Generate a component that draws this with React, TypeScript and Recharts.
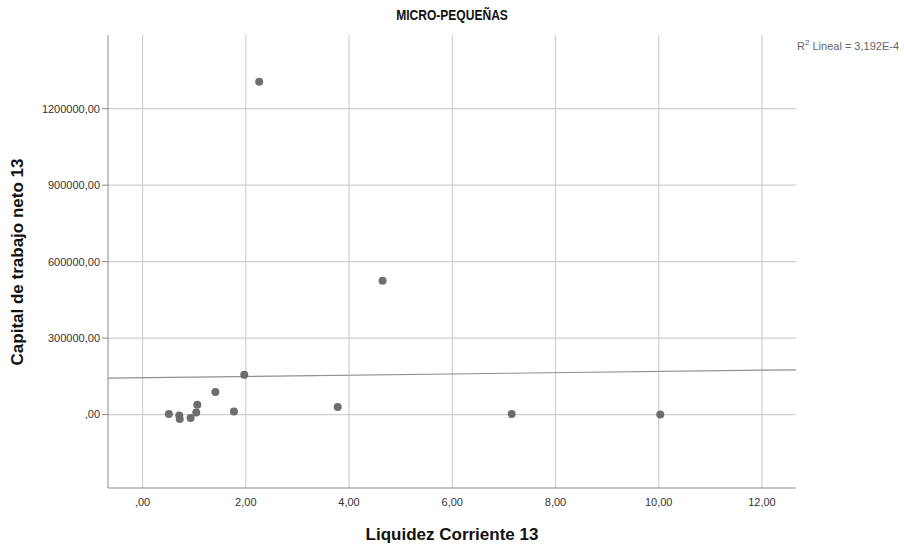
import React from "react";
import {
  ScatterChart,
  Scatter,
  XAxis,
  YAxis,
  ReferenceLine,
} from "recharts";

// liquidez corriente (x) and capital de trabajo neto (y)
const liquidez = [2.26, 4.65, 3.78, 7.15, 10.03, 1.97, 1.41, 1.77, 0.51, 0.71, 0.72, 0.93, 1.04, 1.06];
const capital = [1306000, 524700, 29400, 2000, 0, 156100, 88200, 12200, 2000, -3500, -17600, -13700, 8200, 38400];

const xTicks = [0, 2, 4, 6, 8, 10, 12];
const yTicks = [0, 300000, 600000, 900000, 1200000];

// linear fit shown in the original chart
const fitIntercept = 144800;
const fitSlope = 2440;

const xDomain: [number, number] = [-0.67, 12.66];
const yDomain: [number, number] = [-288000, 1489000];

const points = liquidez.map((x, i) => ({ x, y: capital[i] }));

const fmt = (v: number) => (v === 0 ? ",00" : v.toFixed(2).replace(".", ","));

const font = "'Liberation Sans', Arial, sans-serif";

const Dot = (props: any) => (
  <circle cx={props.cx} cy={props.cy} r={4} fill="#6e6e6e" />
);

const App = () => {
  return (
    <div style={{ position: "absolute", left: 0, top: 0, width: 904, height: 547, background: "#fff", fontFamily: font }}>
      <ScatterChart
        width={904}
        height={547}
        margin={{ top: 35, right: 108, bottom: 0, left: 0 }}
      >
        {/* grid lines only at the ticks, no frame on top/right */}
        {xTicks.map((t) => (
          <ReferenceLine key={"gx" + t} x={t} stroke="#d0d0d0" strokeWidth={1.2} />
        ))}
        {yTicks.map((t) => (
          <ReferenceLine key={"gy" + t} y={t} stroke="#d0d0d0" strokeWidth={1.2} />
        ))}
        <XAxis
          type="number"
          dataKey="x"
          domain={xDomain}
          ticks={xTicks}
          tickFormatter={fmt}
          height={59}
          allowDataOverflow
          stroke="#8a8a8a"
          tickLine={false}
          tickSize={0}
          tickMargin={10}
          tick={{ fill: "#333", fontSize: 11, fontFamily: font }}
        />
        <YAxis
          type="number"
          dataKey="y"
          domain={yDomain}
          ticks={yTicks}
          tickFormatter={fmt}
          width={108}
          allowDataOverflow
          stroke="#8a8a8a"
          tickSize={6}
          tickMargin={2}
          tick={{ fill: "#333", fontSize: 11, fontFamily: font }}
        />
        <ReferenceLine
          segment={[
            { x: xDomain[0], y: fitIntercept + fitSlope * xDomain[0] },
            { x: xDomain[1], y: fitIntercept + fitSlope * xDomain[1] },
          ]}
          stroke="#909090"
          strokeWidth={1.2}
        />
        <Scatter data={points} shape={<Dot />} isAnimationActive={false} />
      </ScatterChart>

      <div style={{ position: "absolute", left: 452, top: 15, transform: "translate(-50%, -50%) scaleX(0.86)", fontSize: 14, fontWeight: "bold", whiteSpace: "nowrap", color: "#111" }}>
        MICRO-PEQUEÑAS
      </div>
      <div style={{ position: "absolute", left: 797, top: 45, transform: "translateY(-50%)", fontSize: 11, whiteSpace: "nowrap", color: "#666" }}>
        R<sup style={{ fontSize: 8 }}>2</sup> Lineal = 3,192E-4
      </div>
      <div style={{ position: "absolute", left: 452, top: 535, transform: "translate(-50%, -50%)", fontSize: 17, fontWeight: "bold", whiteSpace: "nowrap", color: "#111" }}>
        Liquidez Corriente 13
      </div>
      <div style={{ position: "absolute", left: 18, top: 262, transform: "translate(-50%, -50%) rotate(-90deg)", fontSize: 17, fontWeight: "bold", whiteSpace: "nowrap", color: "#111" }}>
        Capital de trabajo neto 13
      </div>
    </div>
  );
};

export default App;
